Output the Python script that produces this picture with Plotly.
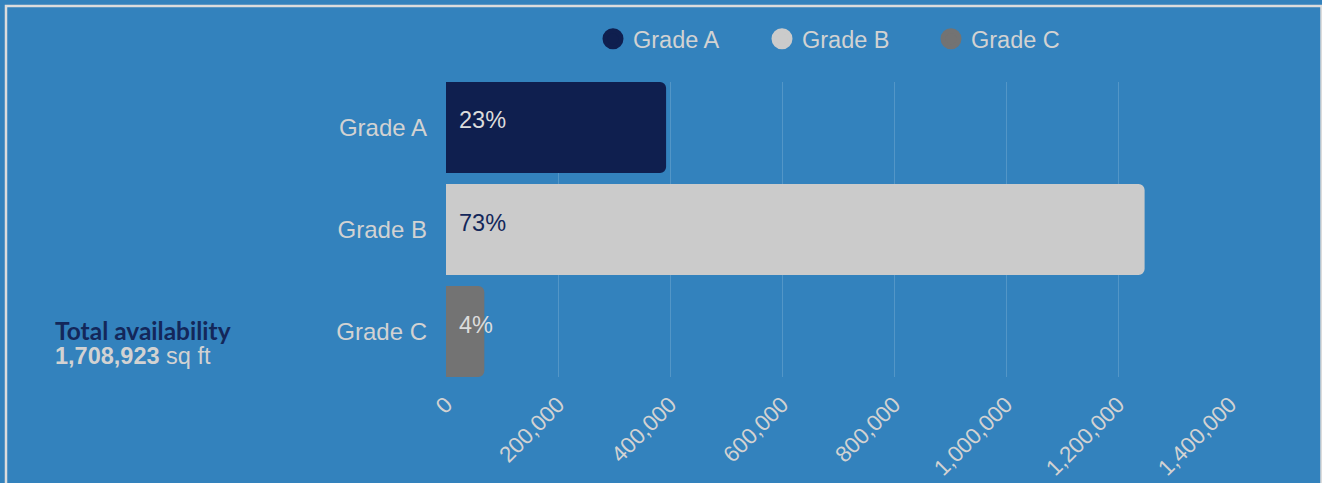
import plotly.graph_objects as go

# ---- data ----
categories = ["Grade A", "Grade B", "Grade C"]
values = [393000, 1247500, 68423]          # sq ft available
bar_colors = ["#0f1f4f", "#cbcbcb", "#737373"]
label_colors = ["#dcdcdc", "#13275a", "#dcdcdc"]
x_tickvals = [0, 200000, 400000, 600000, 800000, 1000000, 1200000, 1400000]
x_ticktext = ["0", "200,000", "400,000", "600,000", "800,000", "1,000,000", "1,200,000", "1,400,000"]

total = sum(values)
percents = [f"{round(v / total * 100)}%" for v in values]

BG = "#3382bd"
TXT = "#d2d2d2"
FONT = "Liberation Sans, Arial, sans-serif"

W, H = 1322, 483
L, R, T, B = 446, 92, 82, 106
PW, PH = W - L - R, H - T - B

fig = go.Figure()

fig.add_trace(go.Bar(
    y=categories, x=values, orientation="h",
    marker=dict(color=bar_colors, line=dict(width=0), cornerradius=6),
    width=0.89, showlegend=False, hoverinfo="x+y",
))

# legend entries (circle symbols)
for name, col in zip(categories, bar_colors):
    fig.add_trace(go.Scatter(
        x=[None], y=[None], mode="markers", name=name,
        marker=dict(symbol="circle", size=16, color=col, line=dict(color=col, width=5)),
    ))

annotations = []
for cat, pct, col in zip(categories, percents, label_colors):
    annotations.append(dict(
        x=0, y=cat, xref="x", yref="y", text=pct, showarrow=False,
        xanchor="left", yanchor="middle", xshift=11, yshift=7,
        font=dict(family=FONT, size=23.5, color=col),
    ))

def px_x(px):
    return (px - L) / PW

def px_y(py):
    return (H - B - py) / PH

total_text = (
    "<span style='font-family:Lato, Inter, sans-serif;font-weight:bold;"
    "color:#13275a;font-size:24.5px'>Total availability</span><br>"
    f"<span style='font-size:23.5px'><b>{total:,}</b> sq ft</span>"
)
annotations.append(dict(
    x=px_x(53), y=px_y(342), xref="paper", yref="paper",
    text=total_text, showarrow=False, align="left",
    xanchor="left", yanchor="middle",
    font=dict(family=FONT, size=18.5, color=TXT),
))

fig.update_layout(
    width=W, height=H,
    margin=dict(l=L, r=R, t=T, b=B, pad=0, autoexpand=False),
    paper_bgcolor=BG, plot_bgcolor=BG,
    font=dict(family=FONT, color=TXT, size=23),
    showlegend=True,
    legend=dict(
        orientation="h", x=px_x(593), xanchor="left", y=px_y(39), yanchor="middle",
        font=dict(family=FONT, size=23.5, color=TXT),
        bgcolor="rgba(0,0,0,0)", entrywidth=124, entrywidthmode="pixels",
        itemclick=False, itemdoubleclick=False,
    ),
    xaxis=dict(
        range=[0, 1400000], tickvals=x_tickvals, ticktext=x_ticktext,
        tickangle=-45, tickfont=dict(family=FONT, size=22.5, color=TXT),
        showgrid=True, gridcolor="rgba(255,255,255,0.16)", gridwidth=1,
        zeroline=False, showline=False, ticks="", ticklabelstandoff=9,
        fixedrange=True, automargin=False,
    ),
    yaxis=dict(
        categoryorder="array", categoryarray=categories,
        range=[2.446, -0.446],
        tickfont=dict(family=FONT, size=24, color=TXT),
        showgrid=False, zeroline=False, showline=False, ticks="",
        ticklabelstandoff=18, fixedrange=True, automargin=False,
    ),
    annotations=annotations,
    shapes=[dict(
        type="rect", xref="paper", yref="paper",
        x0=px_x(6), x1=px_x(1321.5), y0=px_y(6), y1=px_y(520),
        line=dict(color="#dcdcdc", width=2.5), fillcolor="rgba(0,0,0,0)", layer="below",
    )],
)

fig.write_html(
    "out.html",
    config={"displayModeBar": False},
    post_script="document.body.style.margin='0';document.body.style.overflow='hidden';",
)
